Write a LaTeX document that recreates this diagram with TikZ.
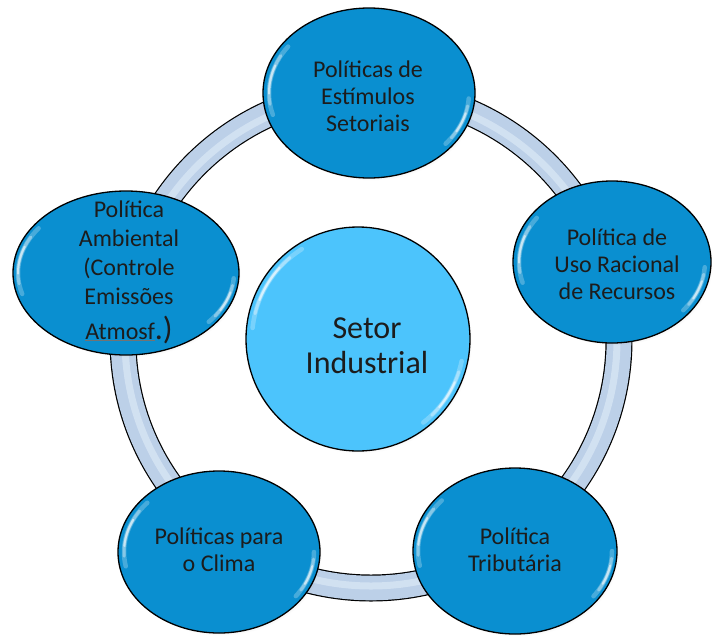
\documentclass[tikz,border=0pt]{standalone}
\usepackage{fontspec}
\setmainfont{Carlito}
\usetikzlibrary{shapes.geometric,shadows}

\definecolor{bubblefill}{HTML}{0A8FD0}
\definecolor{hubfill}{HTML}{4CC4FC}
\definecolor{tubefill}{HTML}{BCD0E8}
\definecolor{tubelight}{HTML}{E4EFFA}
\definecolor{ink}{HTML}{1C1C1C}

% glossy highlight along the inside of an ellipse: centre x, centre y, rx, ry, mid angle, half span
\newcommand\glossarc[6]{%
  \foreach \f/\o/\w in {1/0.25/4.5,0.7/0.35/3,0.4/0.55/2}{%
    \pgfmathsetmacro\sa{#5-#6*\f}%
    \pgfmathsetmacro\ea{#5+#6*\f}%
    \draw[white, opacity=\o, line width=\w pt, line cap=round]
      ([shift={(\sa:#3 and #4)}]#1,#2) arc[start angle=\sa, end angle=\ea, x radius=#3, y radius=#4];
  }%
}
% thin grey underline
\newcommand\greyline[1]{{\color{black!55}\underline{\color{ink}#1}}}

\begin{document}
\begin{tikzpicture}[x=1pt,y=-1pt,
  bubble/.style={ellipse, draw=black, line width=1.3pt, fill=bubblefill, inner sep=0pt,
    circular drop shadow={opacity=0.25, shadow xshift=2pt, shadow yshift=-2.5pt, shadow scale=1.0}},
  hubshape/.style={circle, draw=black, line width=1.3pt, fill=hubfill, inner sep=0pt,
    circular drop shadow={opacity=0.25, shadow xshift=2pt, shadow yshift=-2.5pt, shadow scale=1.0}},
  btext/.style={align=center, text=ink, inner sep=0pt, font=\fontsize{24}{27}\selectfont},
]
\useasboundingbox (0,0) rectangle (712,635);

% ring tube joining the bubbles
\coordinate (ringc) at (371,340);
\draw[line width=27pt, black] (ringc) circle[radius=248];
\draw[line width=24.6pt, tubefill] (ringc) circle[radius=248];
\draw[line width=7pt, tubelight, opacity=0.55] (ringc) circle[radius=246];

% central hub
\node[hubshape, minimum size=224pt] (hub) at (358,339) {};
\glossarc{358}{339}{106}{106}{212}{26}
\glossarc{358}{339}{106}{106}{32}{20}
\node[align=center, text=ink, inner sep=0pt, font=\fontsize{32}{35}\selectfont] (hubtxt) at (367,346) {Setor\\Industrial};

% outer bubbles
\node[bubble, minimum width=212pt, minimum height=170pt] (est) at (369,93) {};
\glossarc{369}{93}{100}{79}{190}{26}
\glossarc{369}{93}{100}{79}{22}{18}
\node[btext] (esttxt) at (368,96) {Políticas de\\Estímulos\\Setoriais};

\node[bubble, minimum width=198pt, minimum height=162pt] (uso) at (612,262) {};
\glossarc{612}{262}{93}{75}{190}{26}
\glossarc{612}{262}{93}{75}{22}{18}
\node[btext] (usotxt) at (617,264) {Política de\\Uso Racional\\de Recursos};

\node[bubble, minimum width=202pt, minimum height=162pt] (clima) at (219,552) {};
\glossarc{219}{552}{95}{75}{195}{26}
\glossarc{219}{552}{95}{75}{18}{18}
\node[btext] (climatxt) at (219,550) {Políticas para\\o Clima};

\node[bubble, minimum width=204pt, minimum height=166pt] (trib) at (515,551) {};
\glossarc{515}{551}{97}{77}{195}{26}
\glossarc{515}{551}{97}{77}{18}{18}
\node[btext] (tribtxt) at (515,550) {Política\\Tributária};

\node[bubble, minimum width=226pt, minimum height=164pt] (amb) at (126,273) {};
\glossarc{126}{273}{108}{76}{190}{26}
\glossarc{126}{273}{108}{76}{22}{18}
\node[btext, font=\fontsize{24}{29}\selectfont] (ambtxt) at (129,272)
  {Política\\Ambiental\\(Controle\\Emissões\\[6pt]\greyline{Atmosf}{\fontsize{32}{34}\selectfont.)}};
\end{tikzpicture}
\end{document}
